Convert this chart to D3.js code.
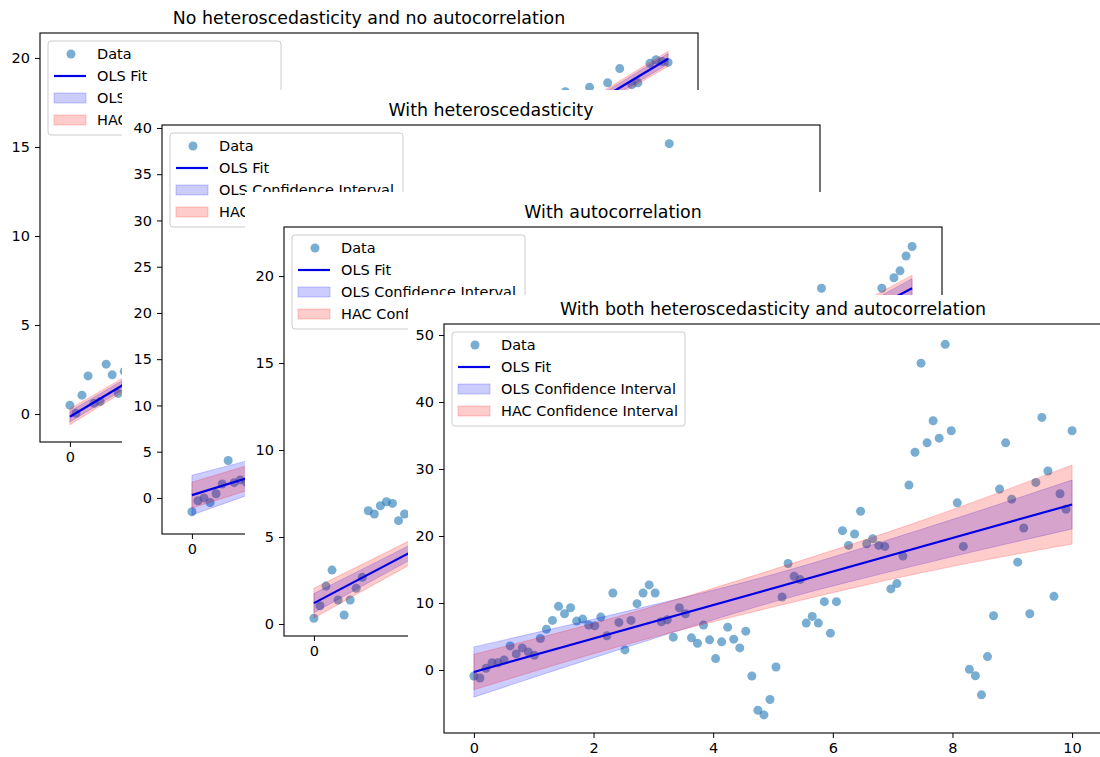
<!DOCTYPE html>
<html>
<head>
<meta charset="utf-8">
<script src="https://cdn.jsdelivr.net/npm/d3@7"></script>
<style>
  body { margin: 0; background: #fff; }
  svg { display: block; font-family: "DejaVu Sans", sans-serif; }
</style>
</head>
<body>
<svg id="chart" width="1100" height="757"></svg>
<script>
// ---- data ----
const titles = [
  "No heteroscedasticity and no autocorrelation",
  "With heteroscedasticity",
  "With autocorrelation",
  "With both heteroscedasticity and autocorrelation"
];
const legendLabels = ["Data", "OLS Fit", "OLS Confidence Interval", "HAC Confidence Interval"];
const xTicks = [0, 2, 4, 6, 8, 10];
const yTicks = [
  [0, 5, 10, 15, 20],
  [0, 5, 10, 15, 20, 25, 30, 35, 40],
  [0, 5, 10, 15, 20],
  [0, 10, 20, 30, 40, 50]
];
const yDomains = [[-1.57, 21.4], [-3.9, 40.32], [-0.69, 22.82], [-9.4, 51.64]];

// observations sit on x = linspace(0, 10, 100), stored by index.
// panels 1-3 are mostly covered by the next screenshot, so only the points you can see are kept
const noneIdx = [0, 1, 2, 3, 4, 5, 6, 7, 8, 9, 82, 86, 89, 91, 93, 94, 96, 97, 98, 99];
const noneY = [0.5, 0.04, 1.06, 2.14, 0.6, 0.7, 2.8, 2.2, 1.16, 2.4,
  18.1, 18.35, 18.6, 19.4, 18.5, 18.6, 19.7, 19.9, 19.8, 19.75];
const hetIdx = [0, 1, 2, 3, 4, 5, 6, 7, 8, 9, 79];
const hetY = [-1.5, -0.3, 0.0, -0.5, 0.45, 1.5, 4.05, 1.65, 1.95, 1.7, 38.3];
const autoIdx = [0, 1, 2, 3, 4, 5, 6, 7, 8, 9, 10, 11, 12, 13, 14, 15, 84, 94, 96, 97, 98, 99];
const autoY = [0.33, 1.05, 2.18, 3.1, 1.38, 0.52, 1.38, 2.05, 2.68, 6.51, 6.32, 6.8, 7.03, 6.93, 5.94, 6.32,
  19.3, 19.3, 19.9, 20.3, 21.15, 21.7];
const bothY = [
  -0.9, -1.2, 0.25, 1.1, 1.1, 1.5, 3.6, 2.4, 3.3, 2.7,
  2.2, 4.7, 6.1, 7.4, 9.5, 8.4, 9.3, 7.3, 7.6, 6.7,
  6.6, 7.9, 5.1, 11.5, 7.1, 3.0, 7.4, 9.9, 11.5, 12.7,
  11.5, 7.2, 7.5, 4.9, 9.3, 8.4, 4.8, 4.0, 6.7, 4.5,
  1.7, 4.2, 6.4, 4.6, 3.3, 5.8, -0.9, -6.0, -6.7, -4.4,
  0.45, 10.9, 15.9, 14.0, 13.5, 7.0, 8.0, 7.0, 10.2, 5.5,
  10.2, 20.8, 18.6, 20.3, 23.7, 18.85, 19.6, 18.6, 18.45, 12.1,
  12.9, 17.0, 27.6, 32.5, 45.8, 33.9, 37.2, 34.6, 48.6, 35.7,
  24.95, 18.45, 0.1, -0.85, -3.7, 2.0, 8.1, 27.0, 33.9, 25.5,
  16.1, 21.2, 8.4, 28.0, 37.7, 29.7, 11.0, 26.3, 24.0, 35.7
];

// fitted OLS line at x = 0 and x = 10
const fitAt0 = [-0.15, 0.3, 1.2, -0.3];
const fitAt10 = [19.95, 20.3, 19.3, 24.7];
// half widths of the confidence bands, read at bandX
const bandX = [0, 2.5, 5, 7.5, 10];
const olsHalf = [
  [0.3, 0.2, 0.15, 0.2, 0.3],
  [2.15, 1.45, 1.1, 1.45, 2.15],
  [0.55, 0.37, 0.28, 0.37, 0.55],
  [3.75, 2.7, 2.05, 2.6, 3.65]
];
const hacHalf = [
  [0.45, 0.3, 0.22, 0.3, 0.42],
  [1.4, 1.3, 1.5, 2.4, 3.5],
  [0.85, 0.62, 0.5, 0.62, 0.75],
  [2.65, 2.25, 2.8, 3.9, 5.9]
];

const pointIdx = [noneIdx, hetIdx, autoIdx, d3.range(100)];
const pointY = [noneY, hetY, autoY, bothY];

// ---- layout: where each screenshot's sheet starts and where its axes sit ----
const sheetX = [0, 122, 245, 408];
const sheetY = [0, 90, 192, 295];
const axLeft = [40, 162, 284, 444];
const axTop = [33, 125, 227, 324];
const axW = 658, axH = 409;
const tickFont = "14.5px", titleFont = "17.4px";

const svg = d3.select("#chart");

titles.forEach(function (title, p) {
  const fig = svg.append("g");

  // white sheet of this screenshot hides whatever is beneath
  fig.append("rect")
    .attr("x", sheetX[p]).attr("y", sheetY[p])
    .attr("width", 1100 - sheetX[p]).attr("height", 757 - sheetY[p])
    .attr("fill", "#fff");

  const g = fig.append("g").attr("transform", `translate(${axLeft[p]},${axTop[p]})`);

  const x = d3.scaleLinear().domain([-0.5, 10.5]).range([0, axW]);
  const y = d3.scaleLinear().domain(yDomains[p]).range([axH, 0]);

  g.append("clipPath").attr("id", "clip" + p)
    .append("rect").attr("width", axW).attr("height", axH);

  const plot = g.append("g").attr("clip-path", `url(#clip${p})`);

  // scatter
  plot.selectAll("circle")
    .data(pointIdx[p].map((i, k) => ({x: i * 10 / 99, y: pointY[p][k]})))
    .join("circle")
    .attr("cx", d => x(d.x))
    .attr("cy", d => y(d.y))
    .attr("r", 4.5)
    .attr("fill", "#1f77b4")
    .attr("fill-opacity", 0.6);

  const fitAt = u => fitAt0[p] + (fitAt10[p] - fitAt0[p]) * u / 10;

  function band(half, color) {
    const pts = bandX.map((u, k) => ({x: u, lo: fitAt(u) - half[k], hi: fitAt(u) + half[k]}));
    const area = d3.area()
      .x(d => x(d.x))
      .y0(d => y(d.lo))
      .y1(d => y(d.hi))
      .curve(d3.curveMonotoneX);
    plot.append("path")
      .attr("d", area(pts))
      .attr("fill", color).attr("fill-opacity", 0.2)
      .attr("stroke", color).attr("stroke-opacity", 0.2).attr("stroke-width", 1);
  }
  band(olsHalf[p], "#0000ff");
  band(hacHalf[p], "#ff0000");

  // OLS fit, kept on top so it stays plain blue
  plot.append("line")
    .attr("x1", x(0)).attr("y1", y(fitAt0[p]))
    .attr("x2", x(10)).attr("y2", y(fitAt10[p]))
    .attr("stroke", "#0000e6")
    .attr("stroke-width", 2.2);

  // axes
  const xAxis = g.append("g").attr("transform", `translate(0,${axH})`)
    .call(d3.axisBottom(x).tickValues(xTicks).tickSize(5).tickPadding(5).tickFormat(d3.format("d")));
  const yAxis = g.append("g")
    .call(d3.axisLeft(y).tickValues(yTicks[p]).tickSize(5).tickPadding(5).tickFormat(d3.format("d")));
  [xAxis, yAxis].forEach(a => {
    a.select(".domain").remove();
    a.selectAll("text").attr("font-size", tickFont).attr("font-family", "DejaVu Sans").attr("fill", "#000");
    a.selectAll("line").attr("stroke", "#000").attr("stroke-width", 1);
  });

  g.append("rect")
    .attr("width", axW).attr("height", axH)
    .attr("fill", "none").attr("stroke", "#000").attr("stroke-width", 1.1);

  // legend
  const lg = g.append("g").attr("transform", "translate(8,8)");
  lg.append("rect")
    .attr("width", 233).attr("height", 94).attr("rx", 3)
    .attr("fill", "#fff").attr("fill-opacity", 0.8)
    .attr("stroke", "#cccccc").attr("stroke-width", 1);
  const rows = [13, 35, 57, 79];
  lg.append("circle").attr("cx", 23).attr("cy", rows[0]).attr("r", 4.5)
    .attr("fill", "#1f77b4").attr("fill-opacity", 0.6);
  lg.append("line").attr("x1", 6).attr("x2", 38).attr("y1", rows[1]).attr("y2", rows[1])
    .attr("stroke", "#0000e6").attr("stroke-width", 2.2);
  ["#0000ff", "#ff0000"].forEach((c, k) => {
    lg.append("rect").attr("x", 6).attr("y", rows[2 + k] - 5).attr("width", 32).attr("height", 10)
      .attr("fill", c).attr("fill-opacity", 0.2)
      .attr("stroke", c).attr("stroke-opacity", 0.2);
  });
  lg.selectAll("text.lab")
    .data(legendLabels)
    .join("text")
    .attr("class", "lab")
    .attr("x", 49)
    .attr("y", (d, i) => rows[i])
    .attr("dy", "0.35em")
    .attr("font-size", tickFont)
    .text(d => d);

  // title
  g.append("text")
    .attr("x", axW / 2).attr("y", -9)
    .attr("text-anchor", "middle")
    .attr("font-size", titleFont)
    .text(title);
});
</script>
</body>
</html>
